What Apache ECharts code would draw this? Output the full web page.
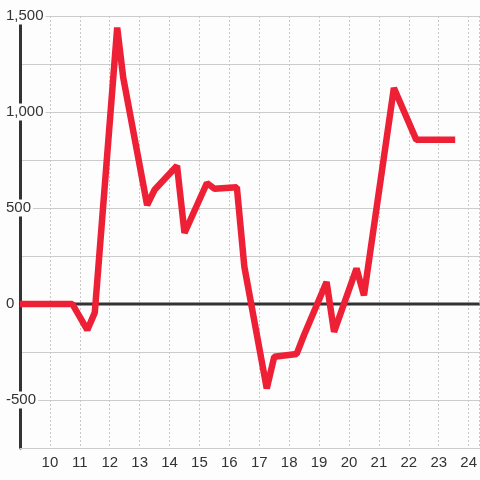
<!DOCTYPE html>
<html><head><meta charset="utf-8">
<script src="https://cdn.jsdelivr.net/npm/echarts@6/dist/echarts.min.js"></script>
<style>html,body{margin:0;padding:0;background:#fdfdfd}#c{width:480px;height:480px}</style>
</head><body><div id="c"></div>
<script>
var xValues = [9, 10.75, 11.25, 11.5, 12.25, 12.45, 13.25, 13.5, 14.25, 14.5, 15.25, 15.5, 16.25, 16.5, 17.25, 17.5, 18.25, 18.5, 19.25, 19.5, 20.25, 20.5, 21.5, 22.25, 23.55];
var yValues = [0, 0, -135, -45, 1440, 1180, 515, 595, 720, 370, 630, 600, 608, 195, -440, -275, -260, -160, 115, -145, 185, 45, 1125, 855, 855];
var xTicks = [10, 11, 12, 13, 14, 15, 16, 17, 18, 19, 20, 21, 22, 23, 24];
var yTicks = [1500, 1000, 500, 0, -500];
var xMin = 9, xMax = 24.3667;

var data = xValues.map(function (x, i) { return [x, yValues[i]]; });
var font = 'Liberation Sans';
var chart = echarts.init(document.getElementById('c'));
chart.setOption({
  backgroundColor: '#fdfdfd',
  animation: false,
  grid: { left: 20, right: -1, top: 16, bottom: 32 },
  xAxis: {
    type: 'value', min: xMin, max: xMax, interval: 1,
    axisLine: { show: true, onZero: false, lineStyle: { color: '#cccccc', width: 1 } },
    axisTick: { show: false },
    axisLabel: {
      showMinLabel: false, showMaxLabel: false, margin: 7,
      color: '#333333', fontSize: 15, fontFamily: font,
      formatter: function (v) { return xTicks.indexOf(v) >= 0 ? String(v) : ''; }
    },
    splitLine: { show: true, lineStyle: { color: '#c8c8c8', type: [2, 2], width: 1 } }
  },
  yAxis: {
    type: 'value', min: -750, max: 1500, interval: 250,
    axisLine: { show: true, lineStyle: { color: '#333333', width: 3 } },
    axisTick: { show: false },
    axisLabel: {
      align: 'left', margin: 16,
      formatter: function (v) {
        if (yTicks.indexOf(v) < 0) return '';
        return '{a|' + v.toLocaleString('en-US') + '}';
      },
      rich: { a: { color: '#333333', fontSize: 15, fontFamily: font, backgroundColor: '#fdfdfd', padding: [1, 2, 1, 2] } }
    },
    splitLine: { show: true, lineStyle: { color: '#cccccc', width: 1 } }
  },
  series: [{
    type: 'line', data: [[xMin, 0], [xMax, 0]], symbol: 'none', silent: true,
    lineStyle: { color: '#333333', width: 3 }, z: 3
  }, {
    type: 'line', data: data, showSymbol: false, symbol: 'none',
    lineStyle: { color: '#ee2036', width: 6.5, join: 'bevel' },
    z: 5
  }]
});
</script></body></html>
